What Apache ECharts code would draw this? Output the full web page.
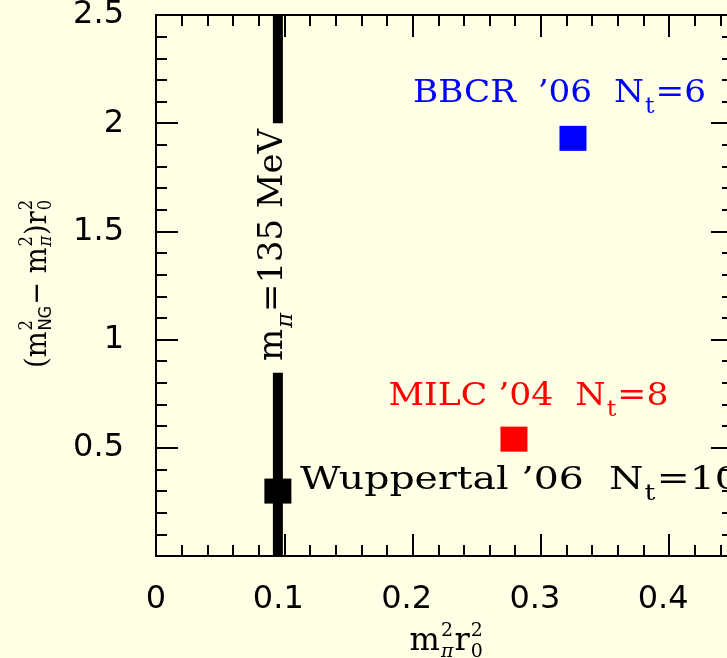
<!DOCTYPE html>
<html><head><meta charset="utf-8">
<script src="https://cdn.jsdelivr.net/npm/echarts@6/dist/echarts.min.js"></script>
<style>html,body{margin:0;padding:0;background:#ffffe6}#c{width:727px;height:658px}</style>
</head><body><div id="c"></div>
<script>
// ---- data ----
const xTickLabels = ['0', '0.1', '0.2', '0.3', '0.4'];
const yTickLabels = ['0.5', '1', '1.5', '2', '2.5'];
const pointNames = ['Wuppertal', 'MILC', 'BBCR'];
const pointX = [0.095, 0.279, 0.325];
const pointY = [0.30, 0.54, 1.93];
const pointLabelHead = ['Wuppertal ’06  N', 'MILC ’04  N', 'BBCR  ’06  N'];
const pointLabelSub = ['t', 't', 't'];
const pointLabelTail = ['=10', '=8', '=6'];
const physLineX = 0.095;
const physLineLower = [0, 0.847];
const physLineUpper = [2.0, 2.5];

// ---- styles ----
const BG = '#ffffe6';
const SERIF = '"DejaVu Serif", serif';
const SANS = '"DejaVu Sans", sans-serif';
const pointColors = ['#000000', '#ff0000', '#0000ff'];
const labelOffsets = [[22, -10], [14.5, -42], [-13.5, -44.5]];
const labelAnchors = ['left', 'center', 'center'];
const labelWidths = [440, 280, 293];

function measure(text, font) {
  const ctx = measure.ctx || (measure.ctx = document.createElement('canvas').getContext('2d'));
  ctx.font = font;
  return ctx.measureText(text).width;
}
function buildText(tokens, o) {
  const children = [];
  let x = 0;
  const mk = (text, px, py, font) => ({
    type: 'text', x: px, y: py,
    style: { text, font, fill: o.color, align: 'left', verticalAlign: 'middle', textAlign: 'left', textVerticalAlign: 'middle' }
  });
  const mainFont = o.size + 'px ' + o.family;
  tokens.forEach(tok => {
    if (tok.t !== undefined) {
      children.push(mk(tok.t, x, 0, mainFont));
      x += measure(tok.t, mainFont);
    } else {
      let w = 0;
      const supF = o.small + 'px ' + o.family;
      const subF = (tok.it ? 'italic ' : '') + o.small + 'px ' + (tok.fam || o.family);
      if (tok.sup) { children.push(mk(tok.sup, x + 1, o.supDy, supF)); w = Math.max(w, measure(tok.sup, supF)); }
      if (tok.sub) { children.push(mk(tok.sub, x + 1, o.subDy, subF)); w = Math.max(w, measure(tok.sub, subF)); }
      x += w + 2;
    }
  });
  return { children, width: x };
}
function textGroup(tokens, o, x, y, opt) {
  const b = buildText(tokens, o);
  const s = opt.targetWidth ? opt.targetWidth / b.width : 1;
  if (opt.anchor === 'center') b.children.forEach(c => { c.x -= b.width / 2; });
  return { type: 'group', x, y, rotation: opt.rotation || 0, scaleX: s, scaleY: 1, children: b.children };
}

const chart = echarts.init(document.getElementById('c'));

const axisCommon = {
  type: 'value',
  axisLine: { onZero: false, lineStyle: { color: '#000', width: 2 } },
  axisTick: { inside: true, length: 22, lineStyle: { color: '#000', width: 2 } },
  minorTick: { show: true, splitNumber: 5, length: 11, lineStyle: { color: '#000', width: 2 } },
  splitLine: { show: false },
  minorSplitLine: { show: false }
};

const data = pointX.map((x, i) => ({
  name: pointNames[i],
  value: [x, pointY[i]],
  itemStyle: { color: pointColors[i], opacity: 1 }
}));

chart.setOption({
  backgroundColor: BG,
  animation: false,
  grid: [
    { left: 156, top: 15, width: 641.5, height: 541, outerBoundsMode: 'none', containLabel: false },
    { left: 156, top: 15, width: 577, height: 541, outerBoundsMode: 'none', containLabel: false }
  ],
  xAxis: [
    Object.assign({}, axisCommon, {
      gridIndex: 0, position: 'bottom', min: 0, max: 0.5, interval: 0.1,
      axisLabel: {
        margin: 28, fontSize: 32, fontFamily: SANS, color: '#000',
        rich: { p: { fontSize: 32, fontFamily: SANS, color: '#000', padding: [0, 12, 0, 0] } },
        formatter: v => {
          const i = Math.round(v * 10);
          if (Math.abs(v * 10 - i) > 1e-6 || i >= xTickLabels.length) return '';
          return i === 0 ? xTickLabels[i] : '{p|' + xTickLabels[i] + '}';
        }
      }
    }),
    Object.assign({}, axisCommon, { gridIndex: 0, position: 'top', min: 0, max: 0.5, interval: 0.1, axisLabel: { show: false } }),
    { type: 'value', gridIndex: 1, min: 0, max: 0.45, show: false, axisLine: { onZero: false } }
  ],
  yAxis: [
    Object.assign({}, axisCommon, {
      gridIndex: 0, position: 'left', min: 0, max: 2.5, interval: 0.5,
      axisLabel: {
        margin: 32, fontSize: 32, fontFamily: SANS, color: '#000', padding: [12, 0, 0, 0],
        formatter: v => { const i = Math.round(v * 2) - 1; return i >= 0 && i < yTickLabels.length ? yTickLabels[i] : ''; }
      }
    }),
    Object.assign({}, axisCommon, { gridIndex: 1, position: 'right', min: 0, max: 2.5, interval: 0.5, axisLabel: { show: false } })
  ],
  series: [
    { type: 'line', symbol: 'none', silent: true, z: 2, lineStyle: { color: '#000', width: 10 },
      data: [[physLineX, physLineLower[0]], [physLineX, physLineLower[1]]] },
    { type: 'line', symbol: 'none', silent: true, z: 2, lineStyle: { color: '#000', width: 10 },
      data: [[physLineX, physLineUpper[0]], [physLineX, physLineUpper[1]]] },
    { type: 'scatter', symbol: 'rect', symbolSize: [27, 25], z: 3, data }
  ]
});

// annotations & axis titles (positions derived from the axes)
const xc = chart.convertToPixel({ xAxisIndex: 0 }, 0.225);
const yBottom = chart.convertToPixel({ yAxisIndex: 0 }, 0);
const yc = chart.convertToPixel({ yAxisIndex: 0 }, 1.25);
const lineX = chart.convertToPixel({ xAxisIndex: 0 }, physLineX);
const gapMid = chart.convertToPixel({ yAxisIndex: 0 }, (physLineLower[1] + physLineUpper[0]) / 2);

const graphics = [
  textGroup([{ t: 'm' }, { sup: '2', sub: 'π', it: true }, { t: 'r' }, { sup: '2', sub: '0' }],
    { size: 32, small: 19, family: SERIF, color: '#000', supDy: -11, subDy: 10 },
    xc + 2, yBottom + 86, { anchor: 'center' }),
  textGroup([{ t: '(' }, { t: 'm' }, { sup: '2', sub: 'NG', fam: SANS }, { t: '−' }, { t: ' m' }, { sup: '2', sub: 'π', it: true }, { t: ')' }, { t: 'r' }, { sup: '2', sub: '0' }],
    { size: 30, small: 18, family: SERIF, color: '#000', supDy: -11, subDy: 8 },
    38, yc - 2, { anchor: 'center', rotation: Math.PI / 2, targetWidth: 169 }),
  textGroup([{ t: 'm' }, { sub: 'π', it: true }, { t: '=135 MeV' }],
    { size: 33, small: 22, family: SERIF, color: '#000', supDy: -10, subDy: 12 },
    lineX - 4, gapMid - 3, { anchor: 'center', rotation: Math.PI / 2, targetWidth: 232 })
];
pointX.forEach((x, i) => {
  const p = chart.convertToPixel({ xAxisIndex: 0, yAxisIndex: 0 }, [x, pointY[i]]);
  graphics.push(textGroup(
    [{ t: pointLabelHead[i] }, { sub: pointLabelSub[i] }, { t: pointLabelTail[i] }],
    { size: 32, small: 22, family: SERIF, color: pointColors[i], supDy: -10, subDy: 13 },
    p[0] + labelOffsets[i][0], p[1] + labelOffsets[i][1],
    { anchor: labelAnchors[i], targetWidth: labelWidths[i] }));
});
chart.setOption({ graphic: graphics });
</script></body></html>
